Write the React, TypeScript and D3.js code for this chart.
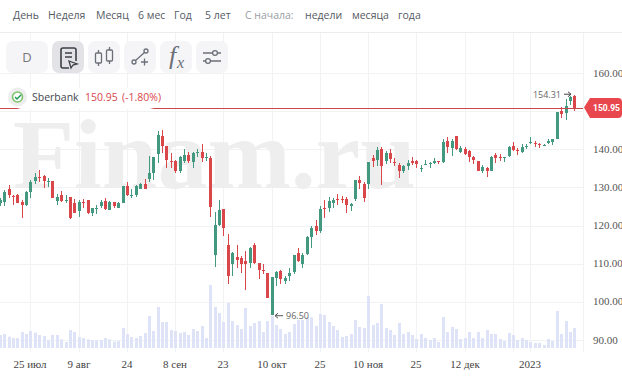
import React from "react";
import * as d3 from "d3";

const opens = [125.8,126.2,129.7,127.8,128.0,126.2,125.3,128.8,131.7,132.8,133.0,131.5,131.6,126.4,128.0,126.5,127.4,126.0,123.9,126.1,126.7,123.2,124.3,125.1,126.4,124.2,126.1,124.7,126.0,130.3,127.7,128.0,129.7,131.0,132.1,133.8,138.7,143.5,140.8,136.9,136.9,134.3,136.9,138.6,136.7,138.9,139.2,137.6,137.8,112.2,120.1,124.3,114.8,109.9,111.7,111.5,110.7,110.2,114.8,110.2,108.3,107.6,96.5,106.3,108.1,105.4,106.8,107.7,112.7,109.9,112.5,116.9,119.8,118.5,124.6,124.5,125.8,126.9,126.9,126.9,125.1,126.9,131.9,130.9,130.9,137.7,137.2,140.2,136.9,138.9,136.7,135.8,134.4,135.6,136.8,137.0,134.9,135.9,136.5,136.5,136.8,136.7,142.1,140.4,143.5,139.3,140.0,139.6,138.0,136.8,134.3,135.2,134.4,138.5,138.0,137.7,138.2,140.9,139.8,139.2,140.7,141.6,141.6,141.3,141.0,141.7,142.0,142.8,150.1,149.6,152.7,154.0];
const highs = [127.1,129.3,130.6,128.0,128.2,126.8,129.1,131.9,133.8,134.5,133.2,132.6,131.6,128.2,129.0,128.0,127.4,127.0,126.7,126.9,126.7,124.7,125.3,126.7,127.1,126.4,126.2,126.2,130.3,131.4,129.5,130.6,131.2,132.3,138.2,138.0,144.8,145.0,140.8,139.1,137.3,138.2,140.2,139.2,139.2,140.0,141.4,138.9,138.2,123.6,126.7,124.3,117.7,113.1,114.8,112.0,113.4,114.4,115.3,110.2,110.0,107.6,106.5,108.1,108.3,106.8,109.0,112.4,114.0,112.8,117.2,119.8,121.4,125.1,126.7,127.4,127.1,128.4,127.7,127.4,126.0,131.9,133.0,131.5,136.6,138.5,140.7,140.7,139.6,140.0,137.8,136.3,135.8,137.3,138.0,137.2,135.9,137.2,136.7,137.7,136.8,142.7,143.1,142.7,143.5,140.8,140.5,139.8,138.2,136.8,135.8,135.4,138.2,138.9,138.7,138.0,140.8,141.8,140.4,141.5,141.4,143.1,142.1,141.7,141.4,142.8,142.8,149.8,151.0,153.1,154.0,154.31];
const lows = [125.1,125.1,127.3,125.4,125.8,121.9,125.1,127.3,130.9,131.5,129.9,130.2,127.3,125.4,126.2,125.8,121.8,123.2,122.3,124.6,123.0,122.5,123.0,124.5,124.2,124.0,124.7,124.6,126.0,127.7,127.1,127.5,129.5,129.6,131.5,131.9,136.3,138.9,135.1,135.2,133.8,133.9,136.3,136.3,135.1,137.9,136.7,137.0,122.3,109.2,119.9,117.2,104.6,106.8,108.9,107.6,103.0,108.9,110.0,105.9,107.2,100.9,96.5,104.2,104.8,104.6,105.5,107.4,110.5,108.9,112.4,114.0,117.5,118.1,122.0,123.6,124.5,125.4,125.8,123.4,123.8,126.4,129.7,126.2,129.7,135.4,135.6,130.6,136.1,136.3,135.6,132.5,133.8,134.5,135.9,135.2,134.1,135.9,135.1,136.1,136.1,136.5,139.1,138.2,139.8,138.9,138.5,136.7,136.1,134.3,133.9,132.8,134.3,136.5,137.0,136.7,138.0,139.6,138.5,139.1,140.2,141.4,140.7,140.4,140.8,141.5,141.1,142.7,148.1,147.7,151.6,150.0];
const closes = [126.7,128.8,128.0,127.6,126.0,125.3,128.8,131.5,132.8,132.5,131.6,131.7,127.3,127.5,126.5,126.7,122.1,123.3,126.2,125.9,123.2,124.5,124.7,126.2,124.3,126.1,125.1,125.8,130.3,128.0,127.9,130.3,131.0,129.7,133.9,138.0,143.7,140.8,137.2,136.7,134.3,138.0,138.5,137.0,138.9,139.2,137.8,138.0,124.9,120.1,124.0,119.4,106.8,112.7,110.9,110.0,109.9,114.2,110.2,108.3,108.1,101.1,106.5,107.7,106.1,106.3,107.6,112.4,110.7,112.2,116.9,119.4,118.5,124.4,124.4,126.4,126.7,126.7,126.7,125.4,125.6,131.9,131.2,127.3,136.6,137.0,139.8,135.6,139.1,137.4,136.5,134.4,135.6,136.3,136.3,136.1,135.2,136.1,136.5,136.8,136.6,141.9,140.6,142.2,140.0,140.4,138.7,138.0,137.2,134.4,135.4,134.4,138.0,137.6,137.6,137.9,140.7,139.8,139.5,140.7,140.9,141.8,141.4,141.1,141.2,142.2,142.6,149.7,149.2,151.4,153.8,150.95];
const volumes = [39,42,34,30,30,48,42,51,46,39,36,24,39,39,26,18,54,48,33,30,26,24,23,24,30,26,19,21,60,42,33,30,36,45,96,51,123,78,78,54,51,45,48,39,57,51,66,30,189,123,105,78,135,81,69,57,120,66,75,81,48,81,96,69,57,42,48,72,84,84,92,92,66,102,99,78,66,54,33,36,42,84,63,60,156,69,75,132,60,54,39,75,42,48,39,27,42,30,24,30,18,93,48,63,57,27,30,48,30,48,30,54,42,42,27,21,45,39,24,30,24,18,15,15,9,27,21,111,42,81,48,60];

const timeTickIndex = [7,18,29,40,51,62,73,84,95,106,117,121];
const timeTickLabels = ["25 июл","9 авг","24","8 сен","23","10 окт","25","10 ноя","25","12 дек","","2023"];
const priceTicks = [90,100,110,120,130,140,150,160];
const lastPrice = 150.95;
const changeLabel = "(-1.80%)";
const highIndex = 131, highLabel = "154.31";
const lowIndex = 62, lowLabel = "96.50";
const periodMenu = [["День",13],["Неделя",48],["Месяц",96],["6 мес",138],["Год",174],["5 лет",205]] as const;
const sinceMenu = [["недели",305],["месяца",352],["года",398]] as const;

const UP = "#43997f", DOWN = "#d9474b", GRID = "#f1f2f4", VOL = "#dfe3f8";
const W = 622, H = 376, plotR = 583, plotB = 348;
const serif = "'Liberation Serif', serif";
const sans = "'Open Sans', sans-serif";

const x = d3.scaleLinear().domain([0, 131]).range([-0.2, 574.3]);
const y = d3.scaleLinear().domain([90, 160]).range([340, 73]);
const v = d3.scaleLinear().domain([0, 189]).range([0, 63]);
const px = (i: number) => Math.round(x(i));

function Btn({ bx, w = 32, fill = "#f5f5f7", children }: any) {
  return <g transform={`translate(${bx},41)`}><rect width={w} height={32} rx={7} fill={fill} />{children}</g>;
}

export default function App() {
  const ln = y(lastPrice);
  const stroke = { stroke: "#6b6f78", strokeWidth: 1.3, fill: "none" } as const;
  return (
    <svg width={W} height={H} style={{ position: "fixed", left: 0, top: 0, background: "#fff" }}>
      {timeTickIndex.map((t) => <line key={t} x1={px(t) + 0.5} x2={px(t) + 0.5} y1={33} y2={352} stroke={GRID} />)}
      {priceTicks.map((p) => <line key={p} x1={0} x2={plotR} y1={Math.round(y(p)) + 0.5} y2={Math.round(y(p)) + 0.5} stroke={GRID} />)}
      <line x1={0} x2={W} y1={32.5} y2={32.5} stroke="#ececee" />
      <line x1={plotR + 0.5} x2={plotR + 0.5} y1={33} y2={352} stroke="#f1f2f4" />
      <text x={13} y={188} fontFamily={serif} fontWeight={700} fontSize={100} fill="#eeeeef">Finam.ru</text>

      {volumes.map((d, i) => <rect key={i} x={px(i) - 1} y={plotB - v(d)} width={3} height={v(d)} fill={VOL} />)}

      <g shapeRendering="crispEdges">
        {closes.map((c, i) => {
          const col = c >= opens[i] ? UP : DOWN;
          const top = y(Math.max(opens[i], c)), bot = y(Math.min(opens[i], c));
          return (
            <g key={i} fill={col}>
              <rect x={px(i)} y={y(highs[i])} width={1} height={y(lows[i]) - y(highs[i])} />
              <rect x={px(i) - 1} y={top} width={3.4} height={Math.max(1, bot - top)} />
            </g>
          );
        })}
      </g>

      <line x1={0} x2={plotR} y1={Math.round(ln) + 0.5} y2={Math.round(ln) + 0.5} stroke="#c8474d" />
      <path d={`M584 ${ln}L590 98H618Q622 98 622 102V114Q622 118 618 118H590Z`} fill="#e8484d" />
      <text x={593} y={ln + 3.5} fontFamily="Roboto, sans-serif" fontWeight={700} fontSize={9.5} fill="#fff" textLength={27} lengthAdjust="spacingAndGlyphs">{lastPrice.toFixed(2)}</text>

      {priceTicks.filter((p) => p !== 150).map((p) => <text key={p} x={593} y={y(p) + 3.5} fontFamily={serif} fontSize={11} fill="#555">{p.toFixed(2)}</text>)}
      {timeTickLabels.map((l, i) => <text key={i} x={px(timeTickIndex[i])} y={368} textAnchor="middle" fontFamily={serif} fontSize={11} fill="#444">{l}</text>)}

      <text x={px(highIndex) - 13} y={y(highs[highIndex]) + 3} textAnchor="end" fontFamily={sans} fontSize={9} fill="#666">{highLabel}</text>
      <path d={`M${px(highIndex) - 10} ${y(highs[highIndex]) - 0.5}h7m-3 -2.5l3 2.5l-3 2.5`} fill="none" stroke="#444" />
      <path d={`M${px(lowIndex) + 11} ${y(lows[lowIndex]) + 0.5}h-8m3 -2.5l-3 2.5l3 2.5`} fill="none" stroke="#555" />
      <text x={px(lowIndex) + 14} y={y(lows[lowIndex]) + 4} fontFamily={sans} fontSize={9} fill="#666">{lowLabel}</text>

      {periodMenu.map(([t, mx]) => <text key={t} x={mx} y={19} fontFamily={sans} fontSize={10.5} fill="#555a63">{t}</text>)}
      <text x={245} y={19} fontFamily={sans} fontSize={10.5} fill="#9a9da3">С начала:</text>
      {sinceMenu.map(([t, mx]) => <text key={t} x={mx} y={19} fontFamily={sans} fontSize={10.5} fill="#555a63">{t}</text>)}

      <Btn bx={6} w={42}><text x={21} y={21} textAnchor="middle" fontFamily={sans} fontSize={13} fill="#777">D</text></Btn>
      <Btn bx={52} fill="#e3e3e7">
        <path d="M24 20V9a2 2 0 0 0-2-2H11a2 2 0 0 0-2 2v16a2 2 0 0 0 2 2h6" {...stroke} stroke="#3c4048" strokeWidth={1.6} />
        <path d="M13 12h7M13 16h7" {...stroke} stroke="#3c4048" />
        <path d="M17 20l8 3-4 1-2 3z" {...stroke} stroke="#3c4048" />
      </Btn>
      <Btn bx={88}>
        <rect x={7.5} y={12} width={6} height={10} rx={1} {...stroke} /><path d="M10.5 9v3M10.5 22v3" {...stroke} />
        <rect x={18.5} y={9} width={6} height={11} rx={1} {...stroke} /><path d="M21.5 6v3M21.5 20v3" {...stroke} />
      </Btn>
      <Btn bx={124}>
        <circle cx={10} cy={21} r={2} {...stroke} /><circle cx={22} cy={10} r={2} {...stroke} />
        <path d="M11.5 19.5L20.5 11.5M17 21h7M20.5 17.5v7" {...stroke} />
      </Btn>
      <Btn bx={160}><text x={9} y={23} fontFamily={serif} fontStyle="italic" fontSize={26} fill="#6b6f78">f</text><text x={17} y={27} fontFamily={serif} fontStyle="italic" fontSize={16} fill="#6b6f78">x</text></Btn>
      <Btn bx={196}>
        <path d="M7 12h9M22 12h3M7 20h3M15 20h10" {...stroke} />
        <circle cx={19} cy={12} r={2.4} {...stroke} /><circle cx={12} cy={20} r={2.4} {...stroke} />
      </Btn>

      <rect x={11} y={88} width={149} height={21} rx={10} fill="#fff" />
      <circle cx={17.5} cy={97} r={9.5} fill="#eeeeef" />
      <circle cx={17.5} cy={97} r={5} fill="#fff" stroke="#7cc36a" strokeWidth={1.6} />
      <path d="M15 97l2 2 4-4" fill="none" stroke="#1d9a5c" strokeWidth={1.5} />
      <text x={32} y={101} fontFamily={sans} fontSize={10.5} fill="#44484f">Sberbank</text>
      <text x={85} y={101} fontFamily={sans} fontSize={10.5} fill="#d9474b">{lastPrice.toFixed(2)}</text>
      <text x={122} y={101} fontFamily={sans} fontSize={10.5} fill="#d9474b">{changeLabel}</text>
    </svg>
  );
}
